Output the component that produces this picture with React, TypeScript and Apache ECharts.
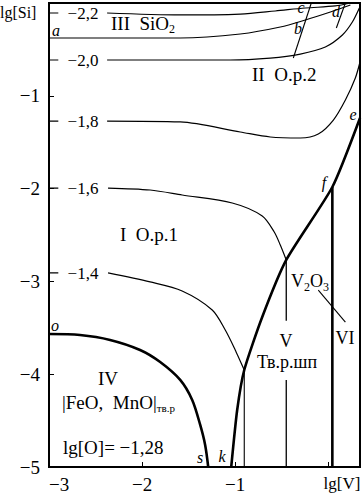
import React, { useEffect, useRef } from "react";
import * as echarts from "echarts";

// axis ticks
const xTicks = [-3, -2, -1, 0];
const yTicks = [-5, -4, -3, -2, -1, 0];

// lg[O] iso-lines (thin)
const contourLevels = ["−2,2", "−2,0", "−1,8", "−1,6", "−1,4"];
const contour22 = [[-2.376, -0.108], [-1.591, -0.129], [-0.946, -0.119], [-0.57, -0.086], [-0.247, -0.054], [0.075, -0.032], [0.237, 0]];
const contour20 = [[-2.376, -0.614], [-1.054, -0.614], [-0.624, -0.593], [-0.301, -0.55], [-0.032, -0.474], [0.151, -0.345], [0.258, -0.205], [0.333, -0.054]];
const contour18 = [[-2.376, -1.272], [-1.591, -1.282], [-0.946, -1.39], [-0.624, -1.444], [-0.301, -1.455], [-0.108, -1.412], [0.054, -1.261], [0.183, -1.045], [0.29, -0.808], [0.34, -0.636]];
const contour16 = [[-2.366, -1.994], [-1.914, -2.015], [-1.57, -2.069], [-1.032, -2.155], [-0.71, -2.295], [-0.581, -2.468], [-0.516, -2.608], [-0.452, -2.769]];
const contour14 = [[-2.366, -2.909], [-1.914, -3.006], [-1.57, -3.103], [-1.247, -3.308], [-1.107, -3.524], [-1.0, -3.739], [-0.903, -3.955]];
const contours = [contour22, contour20, contour18, contour16, contour14];

// phase boundaries (thin)
const lineABD = [[-3, -0.377], [-1.591, -0.377], [-0.946, -0.334], [-0.516, -0.259], [-0.247, -0.183], [0.022, -0.097], [0.237, -0.022]];
const lineCB = [[-0.183, 0], [-0.376, -0.593]];
const lineD = [[0.183, 0], [0.086, -0.269]];
const lineKVert = [[-0.903, -3.955], [-0.903, -5]];
const lineVUpper = [[-0.452, -2.769], [-0.452, -3.425]];
const lineVLower = [[-0.452, -4.062], [-0.452, -5]];
const lineV2O3 = [[-0.108, -3.093], [0.183, -3.438]];

// phase boundaries (thick)
const curveEFK = [[0.34, -1.239], [0.043, -1.983], [-0.452, -2.769], [-0.71, -3.384], [-0.903, -3.955], [-0.979, -4.386], [-1.043, -5]];
const curveOS = [[-3, -3.567], [-2.667, -3.578], [-2.344, -3.631], [-2.022, -3.739], [-1.806, -3.869], [-1.591, -4.062], [-1.462, -4.278], [-1.376, -4.547], [-1.323, -4.763], [-1.29, -5]];
const lineFVert = [[0.043, -1.983], [0.043, -5]];

const FONT = '"Liberation Serif", "DejaVu Serif", serif';

function lineSeries(data: number[][], width: number, smooth: number | boolean = false) {
  return {
    type: "line",
    data,
    symbol: "none",
    smooth,
    silent: true,
    animation: false,
    lineStyle: { color: "#000", width },
  };
}

function txt(text: string, x: number, y: number, size: number, opts: any = {}) {
  return {
    type: "text",
    x,
    y,
    silent: true,
    style: {
      text,
      fill: "#000",
      fontFamily: FONT,
      fontSize: size,
      fontStyle: opts.italic ? "italic" : "normal",
      align: opts.align || "center",
      verticalAlign: "middle",
      rich: opts.rich,
    },
  };
}

export default function App() {
  const ref = useRef<HTMLDivElement>(null);
  useEffect(() => {
    if (!ref.current) return;
    const chart = echarts.init(ref.current, null, { renderer: "svg" });
    const series: any[] = [];
    contours.forEach((c) => {
      series.push(lineSeries(c, 1.2, 0.3));
      series.push(lineSeries([[-3, c[0][1]], [-2.9, c[0][1]]], 1.2));
    });
    series.push(lineSeries(lineABD, 1.2, 0.3));
    series.push(lineSeries(lineCB, 1.1));
    series.push(lineSeries(lineD, 1.1));
    series.push(lineSeries(lineKVert, 1.1));
    series.push(lineSeries(lineVUpper, 1.3));
    series.push(lineSeries(lineVLower, 1.3));
    series.push(lineSeries(lineV2O3, 1.1));
    series.push(lineSeries(curveEFK, 2.6, 0.2));
    series.push(lineSeries(curveOS, 2.6, 0.3));
    series.push(lineSeries(lineFVert, 2.6));

    const contourPx = [13, 60, 121, 188, 273];
    const sub = (fs: number) => ({ sub: { fontSize: fs, fontFamily: FONT, fill: "#000", padding: [fs, 0, 0, 0] } });
    const graphics: any[] = [
      txt("lg[Si]", 0, 12, 16, { align: "left" }),
      txt("lg[V]", 342, 483, 17),
      txt("a", 56, 30, 16, { italic: true }),
      txt("III  SiO{sub|2}", 111, 23, 19, { align: "left", rich: sub(12) }),
      txt("c", 301, 7, 16, { italic: true }),
      txt("b", 298, 28, 16, { italic: true }),
      txt("d", 336, 11, 16, { italic: true }),
      txt("e", 353, 114, 16, { italic: true }),
      txt("f", 324, 182, 16, { italic: true }),
      txt("o", 55, 325, 16, { italic: true }),
      txt("s", 200, 457, 16, { italic: true }),
      txt("k", 222, 456, 16, { italic: true }),
      txt("II  О.р.2", 252, 74, 19, { align: "left" }),
      txt("I  О.р.1", 120, 234, 19, { align: "left" }),
      txt("V{sub|2}O{sub|3}", 291, 281, 18, { align: "left", rich: sub(12) }),
      txt("IV", 108, 378, 19),
      txt("|FeO,  MnO|{sub|тв.р}", 62, 402, 19, { align: "left", rich: sub(11) }),
      txt("lg[O]= −1,28", 63, 447, 19, { align: "left" }),
      txt("V", 286, 341, 18),
      txt("Тв.р.шп", 287, 362, 18),
      txt("VI", 345, 338, 18),
    ];
    contourLevels.forEach((l, i) => graphics.push(txt(l, 83, contourPx[i], 17)));

    chart.setOption({
      animation: false,
      backgroundColor: "#fff",
      grid: { left: 49, right: 4, top: 3, bottom: 28, show: true, borderColor: "#000", borderWidth: 2, backgroundColor: "transparent" },
      xAxis: {
        type: "value",
        min: xTicks[0],
        max: 0.34,
        interval: 1,
        axisLine: { onZero: false, lineStyle: { color: "#000", width: 2 } },
        axisTick: { inside: true, length: 5, lineStyle: { color: "#000" } },
        splitLine: { show: false },
        axisLabel: {
          color: "#000",
          fontSize: 19,
          fontFamily: FONT,
          margin: 8,
          showMaxLabel: false,
          alignMinLabel: "left",
          formatter: (v: number) => (xTicks.includes(v) && v !== 0 ? "−" + Math.abs(v) : ""),
        },
      },
      yAxis: {
        type: "value",
        min: yTicks[0],
        max: yTicks[yTicks.length - 1],
        interval: 1,
        axisLine: { onZero: false, lineStyle: { color: "#000", width: 2 } },
        axisTick: { inside: true, length: 5, lineStyle: { color: "#000" } },
        splitLine: { show: false },
        axisLabel: {
          color: "#000",
          fontSize: 19,
          fontFamily: FONT,
          margin: 9,
          formatter: (v: number) => (v === 0 ? "" : "−" + Math.abs(v)),
        },
      },
      series,
      graphic: graphics,
    });
    return () => chart.dispose();
  }, []);
  return <div ref={ref} style={{ position: "absolute", left: 0, top: 0, width: 364, height: 495, background: "#fff" }} />;
}
